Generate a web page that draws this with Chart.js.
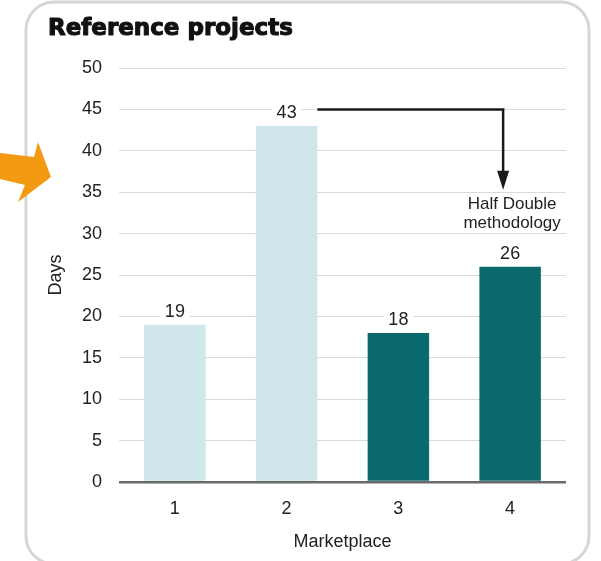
<!DOCTYPE html>
<html>
<head>
<meta charset="utf-8">
<script src="https://cdn.jsdelivr.net/npm/chart.js@4/dist/chart.umd.min.js"></script>
<style>
  html, body { margin: 0; padding: 0; background: #ffffff; }
  #wrap { width: 601px; height: 561px; }
</style>
</head>
<body>
<div id="wrap"><canvas id="chart" width="601" height="561"></canvas></div>
<script>
// Chart data
const categories = ['1', '2', '3', '4'];
const days = [19, 43, 18, 26];
const barColors = ['#cfe6ea', '#cfe6ea', '#0a696c', '#0a696c'];
const yTicks = [0, 5, 10, 15, 20, 25, 30, 35, 40, 45, 50];

const titleText = 'Reference projects';
const yTitle = 'Days';
const xTitle = 'Marketplace';

// Callout: from the top of bar 2 over to bar 4
const calloutLines = ['Half Double', 'methodology'];
const calloutFromIndex = 1;
const calloutToIndex = 3;
const calloutLevel = 45;
const calloutArrowEnd = 35.3;
const calloutTextLevels = [33.5, 31.3];

const FONT = '"Liberation Sans", Arial, sans-serif';
const TEXT = '#222222';

// White card with rounded grey outline and the heading
const cardPlugin = {
  id: 'card',
  beforeDraw(chart) {
    const ctx = chart.ctx;
    ctx.save();
    ctx.fillStyle = '#ffffff';
    ctx.fillRect(0, 0, chart.width, chart.height);
    ctx.beginPath();
    ctx.roundRect(26, 2, 563, 562, 28);
    ctx.lineWidth = 3;
    ctx.strokeStyle = '#d6d6d6';
    ctx.stroke();
    ctx.font = 'bold 23px "DejaVu Sans", sans-serif';
    ctx.fillStyle = '#111111';
    ctx.strokeStyle = '#111111';
    ctx.lineWidth = 1.1;
    ctx.lineJoin = 'round';
    ctx.textBaseline = 'alphabetic';
    ctx.textAlign = 'left';
    ctx.fillText(titleText, 48, 35);
    ctx.strokeText(titleText, 48, 35);
    ctx.restore();
  }
};

// Value labels above each bar, on a white patch over the grid
const valueLabels = {
  id: 'valueLabels',
  afterDatasetsDraw(chart) {
    const ctx = chart.ctx;
    const meta = chart.getDatasetMeta(0);
    ctx.save();
    ctx.font = '18px ' + FONT;
    ctx.textAlign = 'center';
    ctx.textBaseline = 'middle';
    meta.data.forEach((bar, i) => {
      const txt = String(days[i]);
      const w = ctx.measureText(txt).width + 10;
      const y = bar.y - 13;
      ctx.fillStyle = '#ffffff';
      ctx.fillRect(bar.x - w / 2, y - 8, w, 16);
      ctx.fillStyle = TEXT;
      ctx.fillText(txt, bar.x, y);
    });
    ctx.restore();
  }
};

// Elbow arrow with its caption, plus the orange pointer at the left edge
const callout = {
  id: 'callout',
  afterDraw(chart) {
    const ctx = chart.ctx;
    const xs = chart.scales.x, ys = chart.scales.y;
    const meta = chart.getDatasetMeta(0);
    const from = meta.data[calloutFromIndex];
    const x0 = from.x + from.width / 2;
    const x1 = xs.getPixelForValue(calloutToIndex) - 7;
    const yTop = ys.getPixelForValue(calloutLevel);
    const yEnd = ys.getPixelForValue(calloutArrowEnd);
    ctx.save();
    ctx.strokeStyle = '#1a1a1a';
    ctx.fillStyle = '#1a1a1a';
    ctx.lineWidth = 2.5;
    ctx.beginPath();
    ctx.moveTo(x0, yTop);
    ctx.lineTo(x1, yTop);
    ctx.lineTo(x1, yEnd - 16);
    ctx.stroke();
    ctx.beginPath();
    ctx.moveTo(x1 - 6, yEnd - 19);
    ctx.lineTo(x1 + 6, yEnd - 19);
    ctx.lineTo(x1, yEnd);
    ctx.closePath();
    ctx.fill();

    ctx.font = '17px ' + FONT;
    ctx.fillStyle = TEXT;
    ctx.textAlign = 'center';
    ctx.textBaseline = 'middle';
    const tx = xs.getPixelForValue(calloutToIndex) + 2;
    calloutLines.forEach((line, i) => {
      ctx.fillText(line, tx, ys.getPixelForValue(calloutTextLevels[i]));
    });

    // orange block arrow
    ctx.fillStyle = '#f39a12';
    ctx.beginPath();
    ctx.moveTo(0, 153);
    ctx.lineTo(34, 157);
    ctx.lineTo(38, 142);
    ctx.lineTo(51, 177);
    ctx.lineTo(18, 202);
    ctx.lineTo(25, 185);
    ctx.lineTo(0, 179);
    ctx.closePath();
    ctx.fill();
    ctx.restore();
  }
};

new Chart(document.getElementById('chart'), {
  type: 'bar',
  data: {
    labels: categories,
    datasets: [{
      data: days,
      backgroundColor: barColors,
      borderWidth: 0,
      barPercentage: 0.55,
      categoryPercentage: 1.0
    }]
  },
  options: {
    responsive: false,
    devicePixelRatio: 1,
    animation: false,
    layout: { padding: { left: 40, right: 35, top: 68, bottom: 8 } },
    plugins: {
      legend: { display: false },
      tooltip: { enabled: false },
      title: { display: false }
    },
    scales: {
      x: {
        grid: { display: false, drawTicks: false },
        border: { display: false },
        ticks: { color: TEXT, font: { family: FONT, size: 18 }, padding: 16 },
        title: { display: true, text: xTitle, color: TEXT, font: { family: FONT, size: 18 }, padding: { top: 4, bottom: 0 } },
        afterFit(scale) { scale.height = 71; }
      },
      y: {
        min: 0,
        max: 50,
        afterBuildTicks(scale) { scale.ticks = yTicks.map(v => ({ value: v })); },
        grid: {
          drawTicks: false,
          color: c => (c.tick && c.tick.value === 0 ? '#6a6a6a' : '#dadada'),
          lineWidth: c => (c.tick && c.tick.value === 0 ? 2.5 : 1)
        },
        border: { display: false },
        ticks: { color: TEXT, font: { family: FONT, size: 18 }, padding: 17 },
        title: { display: true, text: yTitle, color: TEXT, font: { family: FONT, size: 18 }, padding: { top: 5, bottom: 0 } },
        afterFit(scale) { scale.width = 79; }
      }
    }
  },
  plugins: [cardPlugin, valueLabels, callout]
});
</script>
</body>
</html>
